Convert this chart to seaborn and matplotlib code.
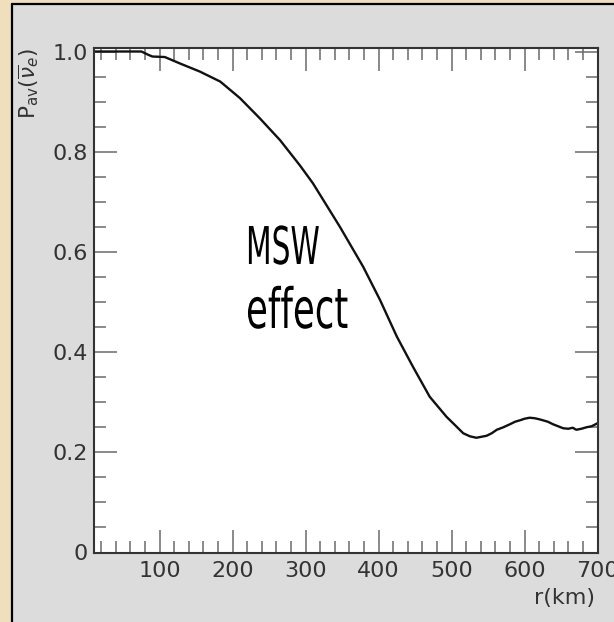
import numpy as np
import pandas as pd
import matplotlib
matplotlib.use("Agg")
import matplotlib.pyplot as plt
import matplotlib.patheffects as pe
import seaborn as sns
from matplotlib.ticker import FixedLocator, MultipleLocator
from matplotlib.patches import Rectangle
from matplotlib.lines import Line2D
from matplotlib.transforms import Affine2D

# ---- data ----
r_km = [10, 40, 75, 85, 90, 107, 128, 155, 183, 210, 237, 265, 292, 310, 347,
        379, 402, 425, 447, 470, 493, 507, 516, 525, 534, 541, 548, 555, 562,
        571, 580, 587, 594, 600, 607, 614, 620, 625, 632, 639, 646, 653, 660,
        666, 671, 678, 685, 692, 700]
p_av = [1.0, 1.0, 1.0, 0.993, 0.990, 0.989, 0.976, 0.960, 0.940, 0.907, 0.867,
        0.823, 0.773, 0.737, 0.650, 0.570, 0.504, 0.431, 0.371, 0.311, 0.271,
        0.251, 0.238, 0.232, 0.229, 0.231, 0.233, 0.238, 0.245, 0.250, 0.256,
        0.261, 0.264, 0.267, 0.269, 0.268, 0.266, 0.264, 0.261, 0.256, 0.252,
        0.248, 0.247, 0.249, 0.245, 0.247, 0.250, 0.252, 0.258]
x_ticks = [100, 200, 300, 400, 500, 600, 700]
x_ticklabels = ["100", "200", "300", "400", "500", "600", "700"]
y_ticks = [0.0, 0.2, 0.4, 0.6, 0.8, 1.0]
y_ticklabels = ["0", "0.2", "0.4", "0.6", "0.8", "1.0"]
annotation_lines = ["MSW", "effect"]

df = pd.DataFrame({"r": r_km, "P": p_av})

sns.set_theme(style="white")
plt.rcParams["font.family"] = ["DejaVu Sans"]


class Squeeze(pe.AbstractPathEffect):
    """Draw text glyphs scaled about the text anchor (narrow, tall lettering)."""

    def __init__(self, sx=1.0, sy=1.0):
        super().__init__()
        self.sx, self.sy = sx, sy

    def draw_path(self, renderer, gc, tpath, affine, rgbFace=None):
        renderer.draw_path(gc, tpath, Affine2D().scale(self.sx, self.sy) + affine,
                           rgbFace)


W, H = 614, 622
fig = plt.figure(figsize=(W / 100, H / 100), dpi=100)
fig.patch.set_facecolor("#f0dfbd")

# grey slide panel with black left/top border
fig.patches.append(Rectangle((12 / W, 0), 1 - 12 / W, (H - 4) / H,
                             transform=fig.transFigure, facecolor="#dcdcdc",
                             edgecolor="none", zorder=-10))
fig.add_artist(Line2D([12 / W, 12 / W], [0, (H - 4) / H], color="black",
                      lw=1.6, transform=fig.transFigure, zorder=-5))
fig.add_artist(Line2D([12 / W, 1], [(H - 4) / H, (H - 4) / H], color="black",
                      lw=1.6, transform=fig.transFigure, zorder=-5))

ax_left, ax_right, ax_top, ax_bot = 94, 597.5, 48, 552.5
ax = fig.add_axes([ax_left / W, 1 - ax_bot / H, (ax_right - ax_left) / W,
                   (ax_bot - ax_top) / H])
ax.set_zorder(1)
ax.set_facecolor("white")

sns.lineplot(data=df, x="r", y="P", ax=ax, color="#111111", lw=1.7)

ax.set_xlim(10, 700)
ax.set_ylim(0, 1.007)

ax.xaxis.set_major_locator(FixedLocator(x_ticks))
ax.set_xticklabels(x_ticklabels)
ax.xaxis.set_minor_locator(MultipleLocator(20))
ax.yaxis.set_major_locator(FixedLocator(y_ticks))
ax.set_yticklabels(y_ticklabels)
ax.yaxis.set_minor_locator(MultipleLocator(0.05))

ax.tick_params(which="both", direction="in", top=True, right=True,
               bottom=True, left=True,
               color="#6a6a6a", width=1.1, labelcolor="#333333", labelsize=16)
ax.tick_params(which="major", length=16.5)
ax.tick_params(which="minor", length=8.5)
ax.tick_params(axis="x", which="major", pad=6)
ax.tick_params(axis="y", which="major", pad=4.5)

for s in ax.spines.values():
    s.set_color("#333333")
    s.set_linewidth(1.5)

ax.set_xlabel("r(km)", fontsize=16, color="#333333", ha="right", va="top")
ax.xaxis.set_label_coords((595 - ax_left) / (ax_right - ax_left),
                          (ax_bot - 588) / (ax_bot - ax_top))
ax.set_ylabel(r"$\mathregular{P_{av}}(\overline{\nu}_e)$", fontsize=15.5,
              color="#333333", rotation=90, ha="center", va="center")
ax.yaxis.set_label_coords((29 - ax_left) / (ax_right - ax_left),
                          (ax_bot - 84) / (ax_bot - ax_top))


def ax_pt(px, py):
    return ((px - ax_left) / (ax_right - ax_left),
            (ax_bot - py) / (ax_bot - ax_top))


x0, y0 = ax_pt(246, 264)
ax.text(x0, y0, annotation_lines[0], transform=ax.transAxes,
        fontsize=37.5, color="black", va="baseline", ha="left",
        path_effects=[Squeeze(sx=0.57)])
x1, y1 = ax_pt(246, 328)
ax.text(x1, y1, annotation_lines[1], transform=ax.transAxes,
        fontsize=40, color="black", va="baseline", ha="left",
        path_effects=[Squeeze(sx=0.64)])

fig.savefig("out.png", dpi=100, facecolor=fig.get_facecolor())
